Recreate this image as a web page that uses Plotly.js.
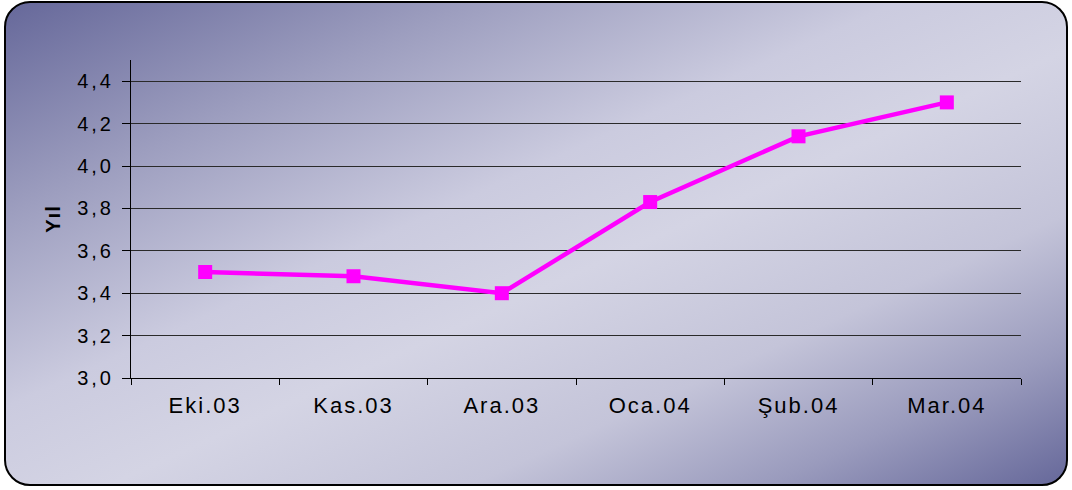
<!DOCTYPE html>
<html>
<head>
<meta charset="utf-8">
<script src="https://cdn.plot.ly/plotly-3.0.1.min.js"></script>
<style>
  html, body { margin: 0; padding: 0; width: 1072px; height: 490px; overflow: hidden; background: #ffffff; }
  #frame {
    position: absolute; left: 4px; top: 1px; width: 1064px; height: 485px;
    border: 2px solid #000; border-radius: 26px;
    background: linear-gradient(to bottom right, #66689a 0%, #9d9ebf 22%, #cbcbdf 42%, #d4d4e4 55%, #c4c4d9 72%, #9a9bbd 86%, #66689a 100%);
    box-sizing: border-box;
  }
  #chart { position: absolute; left: 0; top: 0; width: 1072px; height: 490px; }
  #chart .xtick text { letter-spacing: 2px; }
  #chart .ytick text { letter-spacing: 3px; }
  #chart .ytitle { letter-spacing: 1px; }
</style>
</head>
<body>
<div id="frame"></div>
<div id="chart"></div>
<script>
const categories = ["Eki.03", "Kas.03", "Ara.03", "Oca.04", "Şub.04", "Mar.04"];
const values = [3.50, 3.48, 3.40, 3.83, 4.14, 4.30];
const yTickVals = [3.0, 3.2, 3.4, 3.6, 3.8, 4.0, 4.2, 4.4];
const yAxisTitle = "Yıl";

const trace = {
  x: categories,
  y: values,
  type: "scatter",
  mode: "lines+markers",
  line: { color: "#ff00ff", width: 4.5 },
  marker: { color: "#ff00ff", symbol: "square", size: 14 },
  hoverinfo: "none"
};

const layout = {
  width: 1072, height: 490,
  paper_bgcolor: "rgba(0,0,0,0)",
  plot_bgcolor: "rgba(0,0,0,0)",
  separators: ",.",
  margin: { l: 131, r: 51, t: 60, b: 112 },
  showlegend: false,
  font: { family: "Liberation Sans, Arial, sans-serif", color: "#000" },
  xaxis: {
    type: "category",
    range: [-0.5, 5.5],
    tickson: "boundaries",
    ticks: "outside", ticklen: 6, tickcolor: "#000", tickwidth: 1,
    showgrid: false,
    showline: true, linecolor: "#000", linewidth: 1,
    tickfont: { size: 22 },
    ticklabelstandoff: 8
  },
  yaxis: {
    range: [3.0, 4.5],
    tickvals: yTickVals,
    tickformat: ".1f",
    ticks: "outside", ticklen: 8, tickcolor: "#000", tickwidth: 1,
    showgrid: true, gridcolor: "#2a2a2a", gridwidth: 1,
    showline: true, linecolor: "#000", linewidth: 1,
    zeroline: false,
    tickfont: { size: 20 },
    ticklabelstandoff: 4,
    title: { text: yAxisTitle, font: { size: 20, weight: "bold" }, standoff: 20 }
  }
};

Plotly.newPlot("chart", [trace], layout, { displayModeBar: false, staticPlot: true });
</script>
</body>
</html>
